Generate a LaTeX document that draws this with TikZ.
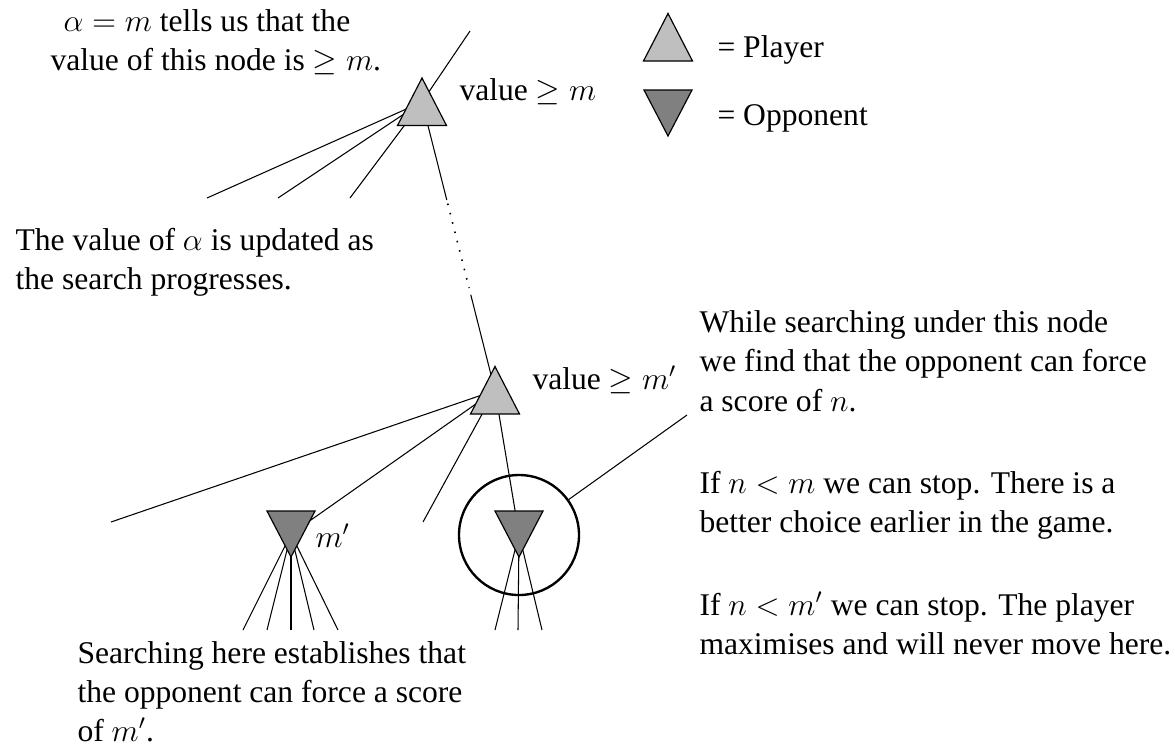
\documentclass[tikz,border=0pt]{standalone}
\usepackage[no-math]{fontspec}
\setmainfont{Liberation Serif}
\usetikzlibrary{calc}
\definecolor{plfill}{gray}{0.75}
\definecolor{opfill}{gray}{0.5}
\begin{document}
\begin{tikzpicture}[x=0.38pt,y=-0.38pt,
  lbl/.style={anchor=base west, inner sep=0pt, font=\fontsize{12}{15}\selectfont},
  edge/.style={line width=0.4pt},
  dotline/.style={line width=0.6pt, dash pattern=on 0.6pt off 3.05pt},
  ring/.style={circle, draw, line width=0.9pt, minimum size=45.6pt, inner sep=0pt},
  player/.pic={\filldraw[fill=plfill,line width=0.45pt] (0,-24) -- (24.5,23.5) -- (-24.5,23.5) -- cycle;},
  opponent/.pic={\filldraw[fill=opfill,line width=0.45pt] (0,23) -- (24,-23) -- (-24,-23) -- cycle;}
]
\useasboundingbox (0,0) rectangle (1175,752);

% tree positions
\coordinate (P1) at (422,102);
\coordinate (P2) at (495,390.5);
\coordinate (O1) at (291,534);
\coordinate (O2) at (519,534);
\coordinate (T0) at (470,31);
\coordinate (a1) at (207,198);
\coordinate (a2) at (278,198);
\coordinate (a3) at (350,198);
\coordinate (b1) at (111,522);
\coordinate (b2) at (423,522);
\coordinate (c1) at (243,630);
\coordinate (c2) at (267,630);
\coordinate (c3) at (291,630);
\coordinate (c4) at (314,630);
\coordinate (c5) at (338,630);
\coordinate (d1) at (495,630);
\coordinate (d2) at (518,630);
\coordinate (d3) at (542,630);
\coordinate (E) at (687,415);
\coordinate (LP) at (668,37.5);
\coordinate (LO) at (668,113);
\node[ring] (C) at (519,535) {};

% connectors
\draw[edge] (P1) -- (T0);
\draw[edge] (P1) -- (a1);
\draw[edge] (P1) -- (a2);
\draw[edge] (P1) -- (a3);
\draw[edge] (P1) -- ($(P1)!0.34!(P2)$);
\draw[dotline] ($(P1)!0.352!(P2)$) -- ($(P1)!0.645!(P2)$);
\draw[edge] ($(P1)!0.668!(P2)$) -- (P2);
\draw[edge] (P2) -- (b1);
\draw[edge] (P2) -- (O1);
\draw[edge] (P2) -- (b2);
\draw[edge] (P2) -- (O2);
\foreach \c in {c1,c2,c3,c4,c5} \draw[edge] (O1) -- (\c);
\foreach \d in {d1,d2,d3} \draw[edge] (O2) -- (\d);
\draw[edge] (C) -- (E);

% node symbols
\pic at (P1) {player};
\pic at (P2) {player};
\pic at (O1) {opponent};
\pic at (O2) {opponent};
\pic at (LP) {player};
\pic at (LO) {opponent};

% labels
\node[lbl] (v1) at (459,100) {value $\geq m$};
\node[lbl] (v2) at (532,389) {value $\geq m'$};
\node[lbl] (mp) at (315,547) {$m'$};
\node[lbl] (lg1) at (717,57) {= Player};
\node[lbl] (lg2) at (717,125) {= Opponent};

\node[lbl] (t1) at (63,31) {$\alpha = m$ tells us that the};
\node[lbl] (t2) at (50,70) {value of this node is $\geq m$.};
\node[lbl] (u1) at (15,250) {The value of $\alpha$ is updated as};
\node[lbl] (u2) at (15,289) {the search progresses.};

\node[lbl] (r1) at (699,332) {While searching under this node};
\node[lbl] (r2) at (699,371.5) {we find that the opponent can force};
\node[lbl] (r3) at (699,411) {a score of $n$.};
\node[lbl] (r4) at (699,493) {If $n<m$ we can stop. There is a};
\node[lbl] (r5) at (699,532.5) {better choice earlier in the game.};
\node[lbl] (r6) at (699,615) {If $n<m'$ we can stop. The player};
\node[lbl] (r7) at (699,654.5) {maximises and will never move here.};

\node[lbl] (s1) at (77,663) {Searching here establishes that};
\node[lbl] (s2) at (77,702) {the opponent can force a score};
\node[lbl] (s3) at (77,741) {of $m'$.};
\end{tikzpicture}
\end{document}
